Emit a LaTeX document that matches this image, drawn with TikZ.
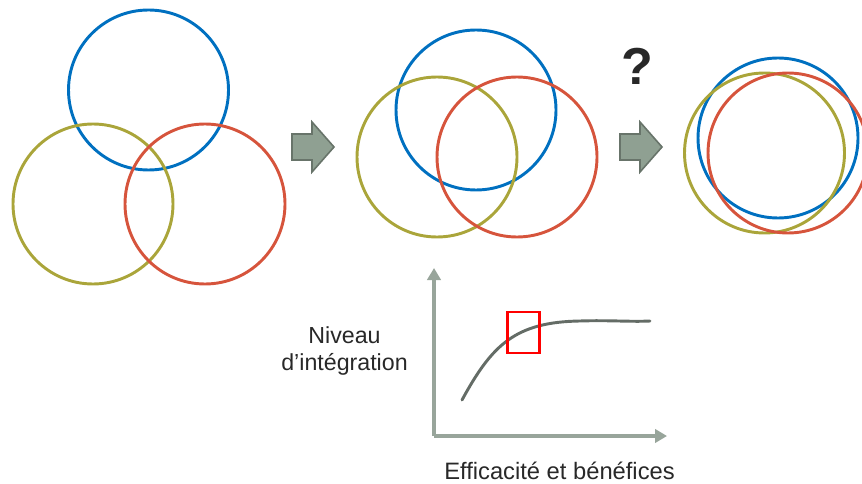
\documentclass[tikz,border=0pt]{standalone}
\usepackage{fontspec}
\setmainfont{Liberation Sans}
\usetikzlibrary{arrows.meta}
\definecolor{ringblue}{RGB}{0,112,192}
\definecolor{ringolive}{RGB}{170,165,58}
\definecolor{ringred}{RGB}{214,84,60}
\definecolor{arrowfill}{RGB}{143,160,146}
\definecolor{arrowedge}{RGB}{104,116,106}
\definecolor{axisc}{RGB}{152,165,155}
\definecolor{curvec}{RGB}{100,108,102}
\definecolor{txtc}{RGB}{40,40,40}

\tikzset{
  ring/.style={draw=#1, circle, line width=2.2pt, minimum size=120pt, inner sep=0pt},
  bigarrow/.style={fill=arrowfill, draw=arrowedge, line width=1.2pt, line join=miter},
  axis/.style={draw=axisc, line width=3pt, -{Triangle[length=9pt, width=10pt]}},
  label/.style={text=txtc, font=\fontsize{17.4}{20}\selectfont, inner sep=0pt, anchor=base}
}

\begin{document}
\begin{tikzpicture}[x=0.75pt, y=-0.75pt]
		\useasboundingbox (0,0) rectangle (862,484);
		
		% three separate circles
		\node[ring=ringblue] (b1) at (148.5,90) {};
		\node[ring=ringolive] (o1) at (93,204) {};
		\node[ring=ringred] (r1) at (205,204) {};
		
		% overlapping
		\node[ring=ringblue] (b2) at (476,110) {};
		\node[ring=ringolive] (o2) at (437,157) {};
		\node[ring=ringred] (r2) at (517,157) {};
		
		% almost merged
		\node[ring=ringblue] (b3) at (778,138) {};
		\node[ring=ringolive] (o3) at (764.5,153) {};
		\node[ring=ringred] (r3) at (788,153) {};
		
		% block arrows
		\foreach \dx in {0,328}
		\draw[bigarrow, xshift=\dx*0.75pt] (292,134) -- (312,134) -- (312,122) -- (334,147)
		-- (312,172) -- (312,160) -- (292,160) -- cycle;
		
		\node[text=txtc, font=\bfseries\fontsize{39}{40}\selectfont, inner sep=0pt, anchor=base] (qm) at (637,85) {?};
		
		% graph
		\coordinate (O) at (434,436);
		\coordinate (ytop) at (434,268);
		\coordinate (xend) at (667,436);
		\draw[axis] (O) -- (ytop);
		\draw[axis] (O) -- (xend);
		
		\coordinate (c0) at (462,400);
		\coordinate (c1) at (580,321);
		\coordinate (c2) at (650,321);
		\draw[curvec, line width=2.2pt, line cap=round] (c0) .. controls (492,345) and (515,322) .. (c1)
		.. controls (610,320) and (630,322) .. (c2);
		
		\node[draw=red, line width=2.2pt, minimum width=24pt, minimum height=30.75pt, inner sep=0pt] (focus) at (523.5,332.5) {};
		
		\node[label] (niveau) at (344.5,343) {Niveau};
		\node[label] (integ) at (344.5,370) {d’intégration};
		\node[label, font=\fontsize{17.8}{20}\selectfont] (effic) at (559.5,479) {Efficacité et bénéfices};
		
\end{tikzpicture}
\end{document}
